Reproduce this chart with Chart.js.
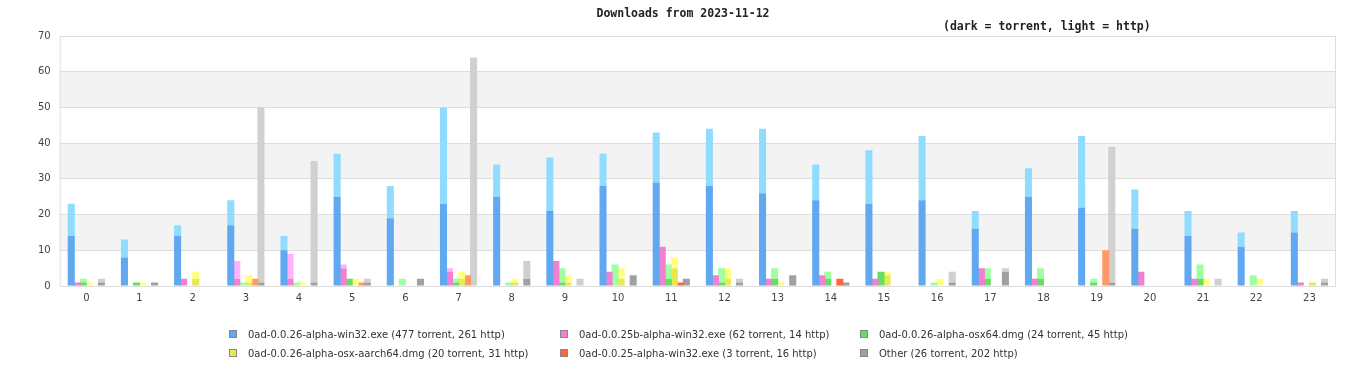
<!DOCTYPE html>
<html>
<head>
<meta charset="utf-8">
<script src="https://cdn.jsdelivr.net/npm/chart.js@4/dist/chart.umd.min.js"></script>
<style>
  body { margin: 0; background: #fff; }
  #wrap { position: relative; width: 1366px; height: 380px; }
  #title { position: absolute; top: 6px; left: 0; width: 1366px; text-align: center;
           font: bold 11.5px "DejaVu Sans Mono", monospace; color: #222; }
  #sub { position: absolute; top: 19px; left: 943px; font: bold 11.5px "DejaVu Sans Mono", monospace; color: #222; }
  #legend { position: absolute; top: 328px; left: 0; width: 1366px; font: 10px "DejaVu Sans", sans-serif; color: #333; }
  .item { position: absolute; white-space: nowrap; line-height: 14px; }
  .box { display: inline-block; width: 6px; height: 6px; border: 1px solid #888; margin-right: 11px; vertical-align: 0px; }
</style>
</head>
<body>
<div id="wrap">
  <canvas id="chart" width="1366" height="380"></canvas>
  <div id="title">Downloads from 2023-11-12</div>
  <div id="sub">(dark = torrent, light = http)</div>
  <div id="legend"></div>
</div>
<script>
const hours = ['0','1','2','3','4','5','6','7','8','9','10','11','12','13','14','15','16','17','18','19','20','21','22','23'];

const fileNames = [
  '0ad-0.0.26-alpha-win32.exe',
  '0ad-0.0.25b-alpha-win32.exe',
  '0ad-0.0.26-alpha-osx64.dmg',
  '0ad-0.0.26-alpha-osx-aarch64.dmg',
  '0ad-0.0.25-alpha-win32.exe',
  'Other'
];

// torrent / http downloads per hour
const win26Torrent  = [14,8,14,17,10,25,19,23,25,21,28,29,28,26,24,23,24,16,25,22,16,14,11,15];
const win26Http     = [9,5,3,7,4,12,9,27,9,15,9,14,16,18,10,15,18,5,8,20,11,7,4,6];
const win25bTorrent = [1,0,2,2,2,5,0,4,0,7,4,11,3,2,3,2,0,5,2,0,4,2,0,1];
const win25bHttp    = [0,0,0,5,7,1,0,1,0,0,0,0,0,0,0,0,0,0,0,0,0,0,0,0];
const osx64Torrent  = [1,1,0,0,0,2,0,1,0,1,0,2,1,2,2,4,0,2,2,1,0,2,0,0];
const osx64Http     = [1,0,0,1,1,0,2,1,1,4,6,4,4,3,2,0,1,3,3,1,0,4,3,0];
const aarchTorrent  = [0,0,2,1,0,0,0,2,1,1,2,5,2,0,0,3,0,0,0,0,0,0,0,1];
const aarchHttp     = [1,1,2,2,1,2,0,2,1,2,3,3,3,1,0,1,2,0,0,0,0,2,2,0];
const win25Torrent  = [0,0,0,0,0,0,0,0,0,0,0,1,0,0,2,0,0,0,0,0,0,0,0,0];
const win25Http     = [0,0,0,2,0,1,0,3,0,0,0,0,0,0,0,0,0,0,0,10,0,0,0,0];
const otherTorrent  = [1,1,0,1,1,1,2,0,2,0,3,2,1,3,1,0,1,4,0,1,0,0,0,1];
const otherHttp     = [1,0,0,49,34,1,0,64,5,2,0,0,1,0,0,0,3,1,0,38,0,2,0,1];

const torrentSeries = [win26Torrent, win25bTorrent, osx64Torrent, aarchTorrent, win25Torrent, otherTorrent];
const httpSeries    = [win26Http, win25bHttp, osx64Http, aarchHttp, win25Http, otherHttp];

const darkColors  = ['#60a8f0','#f080d0','#66dd66','#e8e850','#ff6640','#a0a0a0'];
const lightColors = ['#90dcff','#ffb0ff','#a0ffa0','#ffff80','#ff9966','#d0d0d0'];

const sum = a => a.reduce((s, v) => s + v, 0);

const datasets = [];
fileNames.forEach((name, i) => {
  const common = { stack: 'g' + i, borderWidth: 0, categoryPercentage: 0.68, barPercentage: 1.17 };
  datasets.push(Object.assign({ label: name + ' torrent', data: torrentSeries[i], backgroundColor: darkColors[i] }, common));
  datasets.push(Object.assign({ label: name + ' http', data: httpSeries[i], backgroundColor: lightColors[i] }, common));
});

// legend, three columns
const legend = document.getElementById('legend');
const colX = [229, 560, 860];
fileNames.forEach((name, i) => {
  const el = document.createElement('div');
  el.className = 'item';
  el.style.left = colX[i % 3] + 'px';
  el.style.top = (Math.floor(i / 3) * 19) + 'px';
  el.innerHTML = `<span class="box" style="background:${darkColors[i]}"></span>${name} (${sum(torrentSeries[i])} torrent, ${sum(httpSeries[i])} http)`;
  legend.appendChild(el);
});

const bands = {
  id: 'bands',
  beforeDraw(chart) {
    const { ctx, chartArea: a, scales: { y } } = chart;
    ctx.save();
    ctx.fillStyle = '#f3f3f3';
    y.ticks.forEach((t, i) => {
      if (i % 2 === 1 && i < y.ticks.length - 1) {
        const top = y.getPixelForValue(y.ticks[i + 1].value);
        const bot = y.getPixelForValue(t.value);
        ctx.fillRect(a.left, top, a.right - a.left, bot - top);
      }
    });
    ctx.restore();
  },
  beforeDatasetsDraw(chart) {
    const { ctx, chartArea: a } = chart;
    ctx.save();
    ctx.strokeStyle = '#dddddd';
    ctx.lineWidth = 1;
    ctx.strokeRect(a.left + 0.5, a.top + 0.5, a.right - a.left - 1, a.bottom - a.top);
    ctx.restore();
  }
};

new Chart(document.getElementById('chart'), {
  type: 'bar',
  data: { labels: hours, datasets },
  options: {
    responsive: false,
    animation: false,
    layout: { padding: { top: 36, right: 30, bottom: 70, left: 29 } },
    plugins: { legend: { display: false }, title: { display: false }, tooltip: { enabled: false } },
    scales: {
      x: {
        stacked: true,
        grid: { display: false, drawTicks: false },
        border: { display: false },
        ticks: { color: '#444', font: { family: 'DejaVu Sans', size: 10 }, padding: 6 }
      },
      y: {
        stacked: true,
        min: 0, max: 70,
        ticks: { stepSize: 10, color: '#444', font: { family: 'DejaVu Sans', size: 10 }, padding: 9 },
        grid: { color: '#dddddd', drawTicks: false },
        border: { display: false }
      }
    }
  },
  plugins: [bands]
});
</script>
</body>
</html>
